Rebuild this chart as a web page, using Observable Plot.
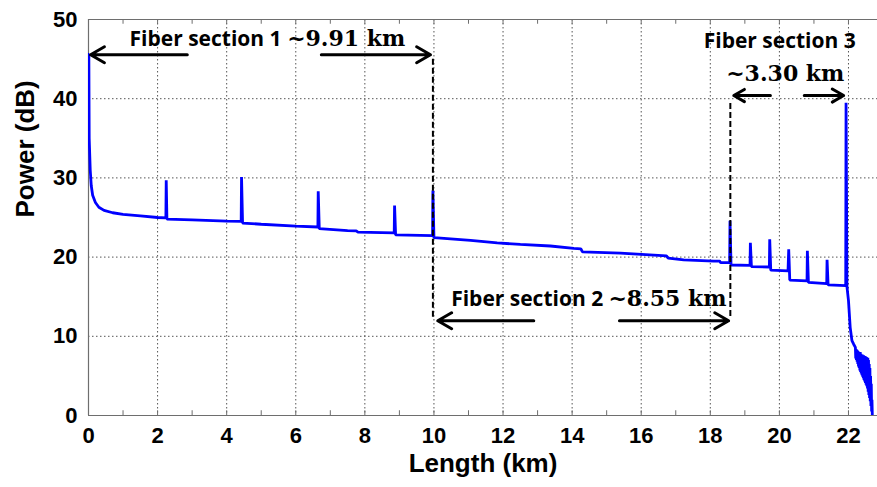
<!DOCTYPE html>
<html>
<head>
<meta charset="utf-8">
<script src="https://cdn.jsdelivr.net/npm/d3@7"></script>
<script src="https://cdn.jsdelivr.net/npm/@observablehq/plot@0.6"></script>
<style>
  html, body { margin: 0; padding: 0; background: #fff; }
  #chart svg g[aria-label="x-axis tick label"],
  #chart svg g[aria-label="y-axis tick label"] {
    font-size: 22px !important;
    font-weight: bold !important;
    font-family: "Liberation Sans", Arial, sans-serif !important;
    fill: #000 !important;
  }
</style>
</head>
<body>
<div id="chart"></div>
<script>
// OTDR trace: distance (km) and power (dB)
const distKm = [
  0.00, 0.01, 0.02, 0.05, 0.08, 0.12, 0.20, 0.30, 0.45, 0.70, 1.00, 1.50, 2.00,
  2.24, 2.25, 2.27, 3.00, 4.00,
  4.42, 4.43, 4.46, 5.00, 6.00,
  6.64, 6.65, 6.68, 7.50, 7.75, 7.80,
  8.85, 8.86, 8.89,
  9.96, 9.97, 10.00, 11.06, 11.83, 12.50, 13.37, 14.05, 14.25, 14.30, 15.40,
  16.73, 16.78, 17.23, 18.10, 18.27, 18.30,
  18.56, 18.57, 18.60, 19.15,
  19.16, 19.19, 19.71,
  19.72, 19.75, 20.25,
  20.27, 20.30, 20.80,
  20.81, 20.84, 21.37,
  21.38, 21.41, 21.92,
  21.93, 21.945, 21.955, 22.00, 22.05, 22.10, 22.15,
  22.20, 22.21, 22.22, 22.23, 22.24, 22.25, 22.26, 22.27, 22.28, 22.29,
  22.30, 22.31, 22.32, 22.33, 22.34, 22.35, 22.36, 22.37, 22.38, 22.39,
  22.40, 22.41, 22.42, 22.43, 22.44, 22.45, 22.46, 22.47, 22.48, 22.49,
  22.50, 22.51, 22.52, 22.53, 22.54, 22.55, 22.56, 22.57, 22.58, 22.59,
  22.60, 22.61, 22.62, 22.63, 22.64, 22.65, 22.66, 22.67, 22.68, 22.69
];
const powerDb = [
  45.6, 45.6, 35.0, 31.0, 29.0, 27.8, 26.9, 26.3, 25.9, 25.6, 25.4, 25.2, 25.0,
  24.95, 29.7, 24.8, 24.7, 24.55,
  24.5, 30.1, 24.3, 24.15, 23.9,
  23.8, 28.3, 23.6, 23.35, 23.3, 23.15,
  23.05, 26.5, 22.8,
  22.7, 28.4, 22.45, 22.1, 21.8, 21.6, 21.4, 21.1, 21.05, 20.65, 20.5,
  20.15, 19.86, 19.65, 19.5, 19.5, 19.3,
  19.3, 24.6, 19.0, 18.95,
  21.8, 18.8, 18.75,
  22.25, 18.35, 18.25,
  21.0, 17.1, 17.0,
  20.8, 16.8, 16.65,
  19.65, 16.5, 16.4,
  39.5, 26.5, 16.3, 14.5, 11.1, 9.45, 9.0,
  8.6, 7.2, 8.4, 7.0, 8.3, 6.8, 8.2, 6.5, 8.1, 6.2,
  8.0, 6.0, 7.9, 5.7, 8.0, 5.5, 7.8, 5.3, 7.7, 5.1,
  7.7, 4.9, 7.6, 4.7, 7.6, 4.5, 7.5, 4.3, 7.5, 4.1,
  7.4, 3.9, 7.4, 3.7, 7.3, 3.4, 7.3, 3.0, 7.0, 2.6,
  6.5, 2.2, 6.0, 1.8, 5.0, 1.2, 4.0, 0.5, 2.0, 0.0
];

// axis ticks
const xMajorTicks = [0, 2, 4, 6, 8, 10, 12, 14, 16, 18, 20, 22];
const xMinorTicks = d3.range(0, 23, 1);
const yTicks = [0, 10, 20, 30, 40, 50];

// annotations (data units)
const sansLabels = ["Fiber section 1", "Fiber section 2"];
const sansLabelX = [5.59, 14.90];
const sansLabelY = [46.7, 13.85];
const serifLabels = ["~9.91 km", "~8.55 km"];
const serifLabelX = [5.75, 15.05];
const serifLabelY = [46.7, 13.85];
const sec3Title = ["Fiber section 3"];
const sec3TitleX = [20.01];
const sec3TitleY = [46.4];
const sec3Length = ["~3.30 km"];
const sec3LengthX = [20.17];
const sec3LengthY = [42.2];

const arrowX1 = [2.86, 6.74, 12.89, 15.37, 19.74, 20.72];
const arrowX2 = [0.06, 9.90, 10.11, 18.53, 18.68, 21.86];
const arrowY = [45.55, 45.55, 11.96, 11.96, 40.4, 40.4];

const dashX = [9.97, 18.58];
const dashY1 = [12.4, 12.5];
const dashY2 = [45.3, 39.7];

const trace = distKm.map((d, i) => ({x: d, y: powerDb[i]}));
const arrows = arrowX1.map((d, i) => ({x1: d, x2: arrowX2[i], y: arrowY[i]}));
const dashes = dashX.map((d, i) => ({x: d, y1: dashY1[i], y2: dashY2[i]}));
const sans = sansLabels.map((t, i) => ({t, x: sansLabelX[i], y: sansLabelY[i]}));
const serif = serifLabels.map((t, i) => ({t, x: serifLabelX[i], y: serifLabelY[i]}));
const s3a = sec3Title.map((t, i) => ({t, x: sec3TitleX[i], y: sec3TitleY[i]}));
const s3b = sec3Length.map((t, i) => ({t, x: sec3LengthX[i], y: sec3LengthY[i]}));

const gridColor = "#555";
const frameColor = "#6e6e6e";
const sansFont = "'Open Sans', 'Noto Sans', sans-serif";
const serifFont = "'DejaVu Serif', serif";

const chart = Plot.plot({
  width: 877,
  height: 487,
  marginLeft: 88,
  marginRight: 0,
  marginTop: 19,
  marginBottom: 72,
  style: {fontFamily: "Liberation Sans, Arial, sans-serif", fontSize: "22px", fontWeight: "bold", background: "#fff", overflow: "visible"},
  x: {domain: [0, 22.84]},
  y: {domain: [0, 50]},
  marks: [
    Plot.gridX(xMajorTicks, {stroke: gridColor, strokeOpacity: 1, strokeDasharray: "1.5,2.5", strokeWidth: 1}),
    Plot.gridY(yTicks, {stroke: gridColor, strokeOpacity: 1, strokeDasharray: "1.5,2.5", strokeWidth: 1}),
    Plot.ruleX(xMinorTicks, {y1: 0, y2: 0.6, stroke: frameColor, strokeWidth: 1}),
    Plot.ruleX(xMinorTicks, {y1: 49.4, y2: 50, stroke: frameColor, strokeWidth: 1}),
    Plot.ruleY([0, 50], {stroke: frameColor, strokeWidth: 1.2}),
    Plot.ruleX([0], {stroke: frameColor, strokeWidth: 1.2}),
    Plot.axisX(xMajorTicks, {tickSize: 0, tickPadding: 12, label: null, fontSize: 22, fontWeight: "bold", fill: "#000"}),
    Plot.axisY(yTicks, {tickSize: 0, tickPadding: 11, label: null, fontSize: 22, fontWeight: "bold", fill: "#000"}),
    Plot.line(trace, {x: "x", y: "y", stroke: "#0000ff", strokeWidth: 2.8, clip: true, strokeLinejoin: "miter"}),
    Plot.ruleX(dashes, {x: "x", y1: "y1", y2: "y2", stroke: "#000", strokeWidth: 2, strokeDasharray: "6,3"}),
    Plot.arrow(arrows, {x1: "x1", x2: "x2", y1: "y", y2: "y", stroke: "#000", strokeWidth: 3, headLength: 8, headAngle: 60}),
    Plot.text(sans, {x: "x", y: "y", text: "t", textAnchor: "end", lineAnchor: "bottom", fontFamily: sansFont, fontSize: 21, fontWeight: "bold", fill: "#000"}),
    Plot.text(serif, {x: "x", y: "y", text: "t", textAnchor: "start", lineAnchor: "bottom", fontFamily: serifFont, fontSize: 22, fontWeight: "bold", fill: "#000"}),
    Plot.text(s3a, {x: "x", y: "y", text: "t", textAnchor: "middle", lineAnchor: "bottom", fontFamily: sansFont, fontSize: 21, fontWeight: "bold", fill: "#000"}),
    Plot.text(s3b, {x: "x", y: "y", text: "t", textAnchor: "middle", lineAnchor: "bottom", fontFamily: serifFont, fontSize: 22, fontWeight: "bold", fill: "#000"}),
    Plot.text(["Length (km)"], {frameAnchor: "bottom", dy: 56, fontSize: 26, fontWeight: "bold", fill: "#000"}),
    Plot.text(["Power (dB)"], {frameAnchor: "left", dx: -63, rotate: -90, fontSize: 26, fontWeight: "bold", fill: "#000"})
  ]
});
document.getElementById("chart").appendChild(chart);
</script>
</body>
</html>
